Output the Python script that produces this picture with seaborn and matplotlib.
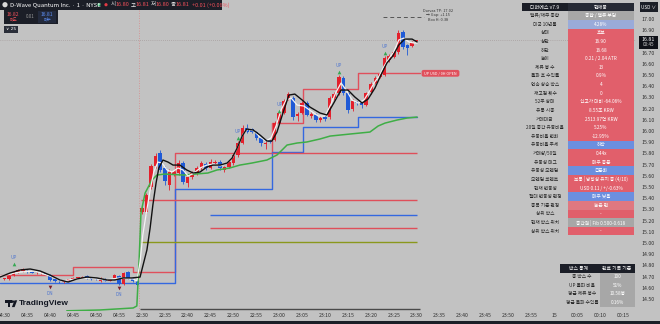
import numpy as np
import pandas as pd
import matplotlib
matplotlib.use('Agg')
import matplotlib.pyplot as plt
import seaborn as sns
from matplotlib.patches import Rectangle, FancyBboxPatch, Circle, Polygon

# ---------------- data ----------------
bar_idx = list(range(91))
opens = [14.675, 14.679, 14.714, 14.741, 14.750, 14.750, 14.741, 14.728, 14.728, 14.730,
         14.714, 14.679, 14.655, 14.650, 14.664, 14.676, 14.690, 14.690, 14.705, 14.690,
         14.680, 14.660, 14.680, 14.665, 14.688, 14.705, 14.634, 14.741, 14.688, 14.661,
         15.277, 15.280, 15.500, 15.690, 15.800, 15.670, 15.520, 15.616, 15.625, 15.714,
         15.536, 15.589, 15.625, 15.670, 15.705, 15.670, 15.714, 15.723, 15.652, 15.679,
         15.714, 15.786, 15.893, 16.027, 16.018, 15.991, 15.938, 15.884, 15.911, 15.920,
         16.071, 16.161, 16.295, 16.295, 16.134, 16.161, 16.250, 16.134, 16.143, 16.098,
         16.125, 16.125, 16.295, 16.339, 16.473, 16.339, 16.196, 16.259, 16.250, 16.232,
         16.348, 16.429, 16.482, 16.500, 16.634, 16.661, 16.705, 16.884, 16.768, 16.759,
         16.800]
closes = [14.685, 14.705, 14.741, 14.759, 14.768, 14.741, 14.735, 14.733, 14.732, 14.725,
          14.670, 14.661, 14.648, 14.660, 14.676, 14.690, 14.695, 14.700, 14.688, 14.680,
          14.675, 14.688, 14.663, 14.670, 14.714, 14.634, 14.732, 14.688, 14.661, 14.625,
          15.313, 15.430, 15.690, 15.780, 15.650, 15.550, 15.630, 15.634, 15.714, 15.545,
          15.589, 15.625, 15.670, 15.714, 15.670, 15.723, 15.723, 15.670, 15.679, 15.723,
          15.786, 15.893, 16.027, 15.991, 15.991, 15.938, 15.893, 15.893, 15.902, 16.071,
          16.161, 16.268, 16.330, 16.125, 16.152, 16.250, 16.143, 16.152, 16.098, 16.116,
          16.107, 16.295, 16.330, 16.482, 16.339, 16.188, 16.268, 16.250, 16.232, 16.339,
          16.420, 16.473, 16.509, 16.652, 16.670, 16.705, 16.875, 16.750, 16.741, 16.786,
          16.810]
highs = [14.692, 14.712, 14.748, 14.766, 14.775, 14.757, 14.747, 14.740, 14.738, 14.736,
         14.720, 14.685, 14.661, 14.666, 14.682, 14.696, 14.701, 14.706, 14.711, 14.696,
         14.686, 14.694, 14.686, 14.676, 14.720, 14.711, 14.742, 14.748, 14.694, 14.667,
         15.330, 15.450, 15.710, 15.800, 15.830, 15.690, 15.660, 15.650, 15.740, 15.730,
         15.600, 15.640, 15.690, 15.730, 15.720, 15.750, 15.740, 15.740, 15.690, 15.740,
         15.800, 15.910, 16.050, 16.060, 16.030, 16.000, 15.950, 15.910, 15.920, 16.090,
         16.180, 16.290, 16.350, 16.310, 16.170, 16.270, 16.270, 16.170, 16.160, 16.130,
         16.140, 16.310, 16.350, 16.500, 16.490, 16.350, 16.290, 16.270, 16.260, 16.350,
         16.440, 16.490, 16.530, 16.670, 16.690, 16.720, 16.900, 16.900, 16.780, 16.800,
         16.810]
lows = [14.668, 14.672, 14.708, 14.735, 14.744, 14.735, 14.729, 14.722, 14.722, 14.719,
        14.663, 14.655, 14.642, 14.644, 14.658, 14.670, 14.684, 14.684, 14.682, 14.674,
        14.669, 14.654, 14.657, 14.659, 14.682, 14.628, 14.628, 14.682, 14.655, 14.618,
        15.260, 15.260, 15.480, 15.670, 15.630, 15.520, 15.470, 15.600, 15.610, 15.530,
        15.500, 15.570, 15.610, 15.650, 15.650, 15.660, 15.700, 15.650, 15.630, 15.670,
        15.700, 15.770, 15.880, 15.980, 15.980, 15.920, 15.870, 15.840, 15.890, 15.910,
        16.060, 16.150, 16.280, 16.100, 16.090, 16.150, 16.130, 16.120, 16.080, 16.080,
        16.090, 16.110, 16.280, 16.320, 16.320, 16.160, 16.180, 16.230, 16.210, 16.220,
        16.330, 16.420, 16.470, 16.490, 16.620, 16.650, 16.690, 16.730, 16.680, 16.750,
        16.800]

# smoothing lines (bar position, price)
black_i = [-1.0, 1.2, 3.4, 5.6, 7.8, 9.9, 12.1, 13.9, 15.8, 18.0, 20.2, 22.4, 24.1, 25.9, 27.8, 29.6,
           31.1, 31.8, 32.4, 33.1, 33.7, 34.6, 35.7, 36.8, 38.3, 39.8, 41.2, 42.7, 44.2, 45.5, 47.1,
           48.6, 49.7, 50.8, 51.9, 52.9, 54.3, 55.8, 57.3, 58.4, 59.5, 60.8, 62.1, 63.4, 65.0, 66.7,
           68.9, 70.4, 71.9, 73.5, 75.0, 76.5, 78.1, 79.4, 80.9, 82.2, 83.5, 84.8, 86.1, 87.4, 89.0, 90.1]
black_p = [14.696, 14.732, 14.759, 14.768, 14.750, 14.714, 14.670, 14.652, 14.679, 14.696, 14.688,
           14.670, 14.670, 14.688, 14.688, 14.696, 14.938, 15.134, 15.339, 15.536, 15.670, 15.741,
           15.723, 15.696, 15.696, 15.652, 15.625, 15.634, 15.679, 15.696, 15.696, 15.714, 15.759,
           15.848, 15.955, 16.018, 16.009, 15.964, 15.911, 15.911, 15.991, 16.161, 16.321, 16.330,
           16.277, 16.214, 16.161, 16.143, 16.250, 16.366, 16.366, 16.304, 16.250, 16.286, 16.384,
           16.500, 16.607, 16.670, 16.768, 16.821, 16.821, 16.795]
white_i = [-1.0, 3.4, 6.7, 9.9, 12.6, 15.4, 18.7, 21.9, 25.2, 28.1, 28.9, 29.6, 30.2, 30.9, 31.8, 32.6,
           33.5, 34.4, 35.5, 36.6, 37.9, 39.0, 40.1, 41.4, 42.7, 44.2, 45.5, 47.1, 48.6, 49.9, 51.0,
           52.1, 53.2, 54.5, 55.8, 57.1, 58.2, 59.3, 60.4, 61.5, 62.6, 63.9, 65.4, 66.9, 68.5, 70.0,
           71.3, 72.4, 73.5, 74.6, 75.9, 77.2, 78.5, 79.6, 80.7, 81.8, 82.9, 84.0, 85.0, 86.1, 87.2,
           88.3, 89.4, 90.1]
white_p = [14.705, 14.741, 14.750, 14.705, 14.661, 14.679, 14.688, 14.670, 14.688, 14.679, 14.661,
           14.830, 15.071, 15.250, 15.473, 15.634, 15.723, 15.714, 15.652, 15.634, 15.670, 15.652,
           15.598, 15.625, 15.670, 15.696, 15.705, 15.688, 15.714, 15.768, 15.866, 15.973, 16.018,
           16.000, 15.946, 15.911, 15.938, 16.045, 16.188, 16.277, 16.295, 16.232, 16.223, 16.179,
           16.134, 16.134, 16.241, 16.348, 16.429, 16.366, 16.277, 16.250, 16.277, 16.348, 16.429,
           16.491, 16.580, 16.652, 16.705, 16.813, 16.830, 16.795, 16.786, 16.786]
green_i = [13.6, 20.8, 28.1, 28.9, 29.4, 29.8, 30.7, 32.2, 33.3, 35.0, 39.0, 44.4, 46.4, 49.2, 51.4,
           54.0, 57.3, 59.5, 60.6, 61.7, 63.9, 66.0, 68.9, 71.1, 75.4, 79.8, 81.6, 83.1, 85.7, 87.9, 90.1]
green_p = [14.395, 14.402, 14.420, 14.438, 14.848, 15.268, 15.446, 15.563, 15.607, 15.616, 15.607,
           15.625, 15.652, 15.670, 15.696, 15.714, 15.741, 15.786, 15.830, 15.875, 15.893, 15.902,
           15.929, 15.955, 15.973, 15.991, 16.045, 16.071, 16.098, 16.116, 16.125]

# darvas box edges
box_top_edges = [-1.0, 15.0, 28.0, 37.2, 58.4, 65.2, 77.2, 90.7]
box_top_levels = [14.714, 14.786, 14.741, 15.804, 16.071, 16.375, 16.518]
box_bot_edges = [-1.0, 37.2, 58.4, 65.2, 77.2, 90.1]
box_bot_levels = [14.643, 15.482, 15.813, 16.036, 16.125]

# horizontal reference levels: (price, start bar, end bar, colour key)
level_price = [15.804, 15.384, 15.250, 15.134, 15.009, 14.411]
level_start = [58.4, 29.8, 44.9, 44.9, 29.8, 29.6]
level_end = [90.0, 90.0, 90.0, 90.0, 90.0, 90.7]
level_kind = ['red', 'red', 'blue', 'red', 'olive', 'dark']
darvas_tp = 17.02
darvas_tp_span = [82.6, 91.6]
last_price = 16.81
session_break = 29.3

up_idx = [2, 51, 60, 73, 83]
up_price = [14.812, 15.938, 16.179, 16.527, 16.696]
dn_idx = [10, 25]
dn_price = [14.607, 14.598]

xtick_idx = list(range(0, 136, 5))
xtick_lbl = ['04:30', '04:35', '04:40', '04:45', '04:50', '04:55',
             '22:30', '22:35', '22:40', '22:45', '22:50', '22:55', '23:00', '23:05', '23:10',
             '23:15', '23:20', '23:25', '23:30', '23:35', '23:40', '23:45', '23:50', '23:55',
             '15', '00:05', '00:10', '00:15']
price_ticks = [14.5, 14.6, 14.7, 14.8, 14.9, 15.0, 15.1, 15.2, 15.3, 15.4, 15.5, 15.6, 15.7,
               15.8, 15.9, 16.0, 16.1, 16.2, 16.3, 16.4, 16.5, 16.6, 16.7, 16.9, 17.0]

tbl_labels = ['밸류/채무 종합', '미국 10년물', '상태', '상단', '하단', '높이', '체류 봉 수',
              '돌파 후 수익률', '연속 상승 박스', '재고점 횟수', '52주 상태', '유통 시총', '거래대금',
              '20일 중간 유동비율', '유동비율 변화', '유동비율 추세', '거래량/50일', '유동성 태그',
              '유동성 모멘텀', '모멘텀 코멘트', '현재 변동성', '절대 변동성 판정', '종목 기준 판정',
              '상위 박스', '현재 박스 위치', '상위 박스 위치']
tbl_values = ['종합 / 밸류 부담', '4.28%', '후보', '16.90', '16.68', '0.21 / 2.04 ATR', '13',
              '0.9%', '4', '0', '신고가 대비 -64.06%', '8.55조 KRW', '2513.97억 KRW', '5.25%',
              '-12.95%', '하락', '0.44x', '매우 충분', '급둔화', '보통 | 방향성 유지 중 (4/10)',
              'USD 0.11 / +/-0.63%', '매우 낮음', '높은 편', '-', '중간권 | Fib 0.500-0.618', '-']
tbl_kind = ['gray', 'lblue', 'red', 'red', 'red', 'red', 'red', 'red', 'red', 'red', 'red', 'red',
            'red', 'red', 'red', 'blue', 'red', 'red', 'blue', 'red', 'red', 'blue', 'lred', 'red',
            'gray', 'red']
stat_labels = ['총 박스 수', 'UP 돌파 비율', '평균 체류 봉수', '평균 돌파 수익률']
stat_values = ['100', '51%', '10.58봉', '0.16%']

# ---------------- style ----------------
sns.set_theme(style='white')
plt.rcParams['font.family'] = ['Noto Sans CJK KR', 'DejaVu Sans']

BG = '#c2c2c2'
RED = '#e3202c'
BLUE = '#1f5ad6'
DARK = '#1b1e27'
CELL = {'red': '#e15f6b', 'blue': '#6c8fdf', 'lblue': '#9aabd9', 'gray': '#a7a7a7', 'lred': '#df7880'}
LVL = {'red': '#df4f5a', 'blue': '#3468e0', 'olive': '#8a981c', 'dark': '#4a4a4a'}

W, H = 660, 324
fig = plt.figure(figsize=(6.6, 3.24), dpi=100, facecolor=BG)
ax = fig.add_axes([0, (H - 311) / H, 636 / W, 311 / H])
ax.set_facecolor(BG)
ax.set_xlim(-0.98, 137.9)
ax.set_ylim(14.393, 17.17)
for s in ax.spines.values():
    s.set_visible(False)

# ---- boxes & levels
ax.step(box_top_edges, box_top_levels + [box_top_levels[-1]], where='post',
        color='#e0505c', lw=1.0, zorder=2)
ax.step(box_bot_edges, box_bot_levels + [box_bot_levels[-1]], where='post',
        color='#3468e0', lw=1.0, zorder=2)
for p, a, b, k in zip(level_price, level_start, level_end, level_kind):
    ax.hlines(p, a, b, color=LVL[k], lw=1.0, zorder=2)
ax.hlines(darvas_tp, darvas_tp_span[0], darvas_tp_span[1], color='#555555', lw=0.7,
          linestyles=(0, (4, 3)), zorder=2)
ax.axhline(last_price, color='#9c8f8f', lw=0.5, ls=(0, (1, 2)), zorder=1)
ax.axvline(session_break, color='#d98888', lw=0.6, ls=(0, (1, 2)), zorder=1)

# ---- candles
o = np.array(opens); c = np.array(closes); hi = np.array(highs); lo = np.array(lows)
cols = np.where(c >= o, RED, BLUE)
ax.vlines(bar_idx, lo, hi, colors=cols, lw=0.6, zorder=3)
ax.bar(bar_idx, np.maximum(np.abs(c - o), 0.006), bottom=np.minimum(o, c), width=0.78,
       color=cols, linewidth=0, zorder=3)

# ---- indicator lines
sns.lineplot(x=green_i, y=green_p, ax=ax, color='#3fae46', lw=1.1, sort=False,
             estimator=None, zorder=4)
sns.lineplot(x=white_i, y=white_p, ax=ax, color='#f4f4f4', lw=0.9, sort=False,
             estimator=None, zorder=4)
sns.lineplot(x=black_i, y=black_p, ax=ax, color='#121212', lw=1.0, sort=False,
             estimator=None, zorder=5)

# ---- signals
ax.scatter(up_idx, up_price, marker='^', s=7, color='#35a852', linewidths=0, zorder=6)
for i, p in zip(up_idx, up_price):
    ax.annotate('UP', (i, p), xytext=(0, 3.2), textcoords='offset points', ha='center',
                va='bottom', fontsize=3.3, color='#4d74cf', zorder=6)
ax.scatter(dn_idx, dn_price, marker='v', s=7, color='#7e1f2c', linewidths=0, zorder=6)
for i, p in zip(dn_idx, dn_price):
    ax.annotate('DN', (i, p), xytext=(0, -2.6), textcoords='offset points', ha='center',
                va='top', fontsize=3.3, color='#4d74cf', zorder=6)

# ---- axes ticks
ax.set_xticks(xtick_idx)
ax.set_xticklabels(xtick_lbl)
ax.yaxis.tick_right()
ax.set_yticks(price_ticks)
ax.set_yticklabels([f'{v:.2f}' for v in price_ticks])
ax.tick_params(axis='x', length=0, pad=1.6, labelsize=3.7, labelcolor='#2e2e2e')
ax.tick_params(axis='y', length=0, pad=4.2, labelsize=3.8, labelcolor='#2e2e2e')
ax.grid(False)

# ---------------- overlay (pixel coords) ----------------
ov = fig.add_axes([0, 0, 1, 1], zorder=10)
ov.set_xlim(0, W); ov.set_ylim(H, 0); ov.axis('off')

# bottom strip
ov.add_patch(Rectangle((0, 321), W, 3, color='#1c1f27', lw=0))

# title bar
ov.add_patch(Rectangle((0, 0), 222, 9.5, color=DARK, lw=0))
ov.add_patch(Circle((5, 4.7), 2.6, color='#d9d9d9', lw=0))
ov.text(10.5, 4.8, 'D-Wave Quantum Inc. · 1 · NYSE', color='white', fontsize=4.3,
        va='center', ha='left')
ov.add_patch(Circle((99, 4.7), 1.6, color='#2fb36b', lw=0))
ov.add_patch(Circle((106, 4.7), 1.6, color='#e23a44', lw=0))
ohlc_parts = [('시', '16.80', 111), ('고', '16.81', 131), ('저', '16.80', 151), ('종', '16.81', 171)]
for lab, val, x in ohlc_parts:
    ov.text(x, 4.8, lab, color='#e8e8e8', fontsize=4.0, va='center', ha='left')
    ov.text(x + 4.6, 4.8, val, color='#f0505a', fontsize=4.0, va='center', ha='left')
ov.text(192, 4.8, '+0.01 (+0.06%)', color='#f0505a', fontsize=4.0, va='center', ha='left')

# bid/ask box
ov.add_patch(Rectangle((4, 9.5), 54, 14, color=DARK, lw=0))
ov.text(13, 14, '16.82', color='#f0505a', fontsize=3.6, ha='center', va='center')
ov.text(13, 19.5, '매도', color='#f0505a', fontsize=3.0, ha='center', va='center')
ov.text(30, 16.5, '0.01', color='#9a9a9a', fontsize=3.2, ha='center', va='center')
ov.add_patch(Rectangle((38, 10.5), 18, 12, color='#232a3c', lw=0))
ov.text(47, 14, '16.81', color='#5b8cf0', fontsize=3.6, ha='center', va='center')
ov.text(47, 19.5, '매수', color='#5b8cf0', fontsize=3.0, ha='center', va='center')
ov.add_patch(Rectangle((4, 26), 14, 7, color='#2a2e39', lw=0))
ov.text(11, 29.5, '∨ 25', color='white', fontsize=3.2, ha='center', va='center',
        family=['DejaVu Sans'])

# darvas note
ov.text(438, 10.5, 'Darvas TP: 17.02', color='#333333', fontsize=2.8, ha='center', va='center')
ov.text(438, 15.2, '→ Gap: +1.15', color='#333333', fontsize=2.8, ha='center', va='center')
ov.text(438, 19.8, 'Box H: 0.38', color='#333333', fontsize=2.8, ha='center', va='center')

# UP label pill
ov.add_patch(FancyBboxPatch((422, 70.3), 37, 6, boxstyle='round,pad=0.4,rounding_size=2',
                            fc='#e0505c', ec='none'))
ov.text(440.5, 73.4, 'UP USD / 0H OPEN', color='white', fontsize=2.7, ha='center', va='center')

# price axis boxes
ov.add_patch(Rectangle((639.5, 2), 18.5, 10, color=DARK, lw=0))
ov.text(648.7, 7, 'USD ∨', color='white', fontsize=3.3, ha='center', va='center')
ov.add_patch(Rectangle((638.5, 35.5), 19.5, 13, color='#0f1118', lw=0))
ov.text(648.2, 39.3, '16.81', color='white', fontsize=3.8, ha='center', va='center')
ov.text(648.2, 45.0, '00:45', color='#d0d0d0', fontsize=3.3, ha='center', va='center')

# TradingView logo
ov.add_patch(Rectangle((5, 300.3), 6.5, 2.2, color='#131722', lw=0))
ov.add_patch(Rectangle((7.5, 300.3), 2.4, 6.8, color='#131722', lw=0))
ov.add_patch(Circle((12.8, 301.6), 1.3, color='#131722', lw=0))
ov.add_patch(Polygon([(14.5, 300.3), (17.2, 300.3), (14.6, 307.1), (11.9, 307.1)],
                     closed=True, color='#131722', lw=0))
ov.text(18.5, 303.8, 'TradingView', color='#131722', fontsize=6.0, fontweight='bold',
        ha='left', va='center', family=['Liberation Sans', 'DejaVu Sans'])

# main info table
tx0, tx1, tx2 = 522, 568, 634
ty0, rh = 2.7, 8.62
ov.add_patch(Rectangle((tx0, ty0), tx2 - tx0, rh, color=DARK, lw=0))
ov.add_patch(Rectangle((tx1, ty0), tx2 - tx1, rh, color='#262a35', lw=0))
ov.text((tx0 + tx1) / 2, ty0 + rh / 2, '디퍼에스 v7.9', color='white', fontsize=3.6,
        ha='center', va='center')
ov.text((tx1 + tx2) / 2, ty0 + rh / 2, '현재봉', color='white', fontsize=3.6,
        ha='center', va='center')
for r, (lab, val, kind) in enumerate(zip(tbl_labels, tbl_values, tbl_kind), start=1):
    y = ty0 + r * rh
    ov.add_patch(Rectangle((tx1, y), tx2 - tx1, rh, color=CELL[kind], lw=0))
    ov.text((tx0 + tx1) / 2, y + rh / 2, lab, color='#262626', fontsize=3.4,
            ha='center', va='center')
    ov.text((tx1 + tx2) / 2, y + rh / 2, val, color='white', fontsize=3.4,
            ha='center', va='center')

# box statistics table
sx0, sx1, sx2 = 560, 598, 635
sy0, srh = 264.0, 8.55
ov.add_patch(Rectangle((sx0, sy0), sx2 - sx0, srh, color=DARK, lw=0))
ov.text((sx0 + sx1) / 2, sy0 + srh / 2, '박스 통계', color='white', fontsize=3.5,
        ha='center', va='center')
ov.text((sx1 + sx2) / 2, sy0 + srh / 2, '완료 기록 기준', color='white', fontsize=3.5,
        ha='center', va='center')
for r, (lab, val) in enumerate(zip(stat_labels, stat_values), start=1):
    y = sy0 + r * srh
    ov.add_patch(Rectangle((sx1 + 2, y), sx2 - sx1 - 2, srh, color='#a7a7a7', lw=0))
    ov.text((sx0 + sx1) / 2 + 3, y + srh / 2, lab, color='#262626', fontsize=3.4,
            ha='center', va='center')
    ov.text((sx1 + sx2) / 2 + 1, y + srh / 2, val, color='white', fontsize=3.4,
            ha='center', va='center')

fig.savefig('out.png', dpi=100, facecolor=BG)
